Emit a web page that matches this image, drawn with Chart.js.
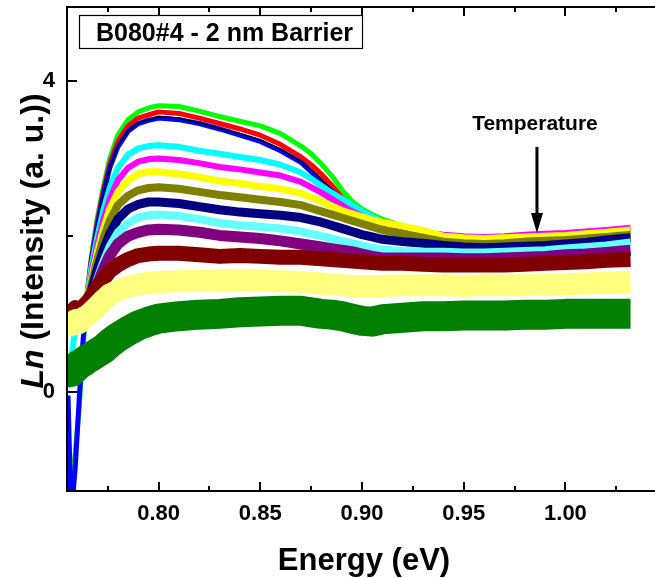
<!DOCTYPE html>
<html>
<head>
<meta charset="utf-8">
<script src="https://cdn.jsdelivr.net/npm/chart.js@4.4.1/dist/chart.umd.min.js"></script>
<style>
  html, body { margin: 0; padding: 0; background: #fff; overflow: hidden; }
  #wrap { position: relative; width: 660px; height: 578px; }
</style>
</head>
<body>
<div id="wrap"><canvas id="plChart"></canvas></div>
<script>
// photon energy (eV), shared by every spectrum
const energy = [0.7555, 0.757, 0.759, 0.761, 0.763, 0.765, 0.767, 0.770, 0.773, 0.776,
    0.780, 0.785, 0.790, 0.795, 0.800, 0.810, 0.820, 0.830, 0.840, 0.850,
    0.860, 0.870, 0.875, 0.880, 0.885, 0.890, 0.895, 0.900, 0.905, 0.910,
    0.920, 0.930, 0.940, 0.950, 0.960, 0.970, 0.980, 0.990, 1.000, 1.010,
    1.020, 1.032];

const xTicks = [0.80, 0.85, 0.90, 0.95, 1.00];
const xMinorTicks = [0.775, 0.825, 0.875, 0.925, 0.975, 1.025];
const yTicks = [0, 4];
const yMinorTicks = [2];

const sampleName = 'B080#4 - 2 nm Barrier';
const arrowLabel = 'Temperature';

// Ln(intensity), lowest temperature first
const lnLime = [-1.6, -1.3, -0.8, -0.2, 0.6, 1.3, 1.75, 2.25, 2.65, 3.0, 3.3, 3.5, 3.6, 3.65, 3.68, 3.67, 3.61, 3.54, 3.48, 3.42, 3.32, 3.16, 3.06, 2.93, 2.78, 2.6, 2.45, 2.35, 2.28, 2.22, 2.13, 2.05, 2.0, 1.98, 1.97, 1.98, 2.0, 2.0, 2.02, 2.04, 2.05, 2.08];
const lnRed = [0.8, 0.8, 0.85, 0.9, 1.0, 1.28, 1.7, 2.2, 2.6, 2.93, 3.22, 3.42, 3.52, 3.56, 3.6, 3.58, 3.52, 3.45, 3.38, 3.3, 3.18, 3.02, 2.92, 2.8, 2.66, 2.5, 2.38, 2.28, 2.22, 2.17, 2.1, 2.03, 1.99, 1.97, 1.96, 1.97, 1.99, 1.99, 2.01, 2.03, 2.04, 2.07];
const lnBlack = [0.75, 0.75, 0.8, 0.85, 0.95, 1.25, 1.65, 2.15, 2.55, 2.88, 3.16, 3.36, 3.46, 3.5, 3.54, 3.52, 3.46, 3.39, 3.32, 3.24, 3.12, 2.96, 2.86, 2.74, 2.6, 2.46, 2.35, 2.26, 2.2, 2.15, 2.08, 2.01, 1.97, 1.95, 1.94, 1.95, 1.97, 1.97, 1.99, 2.01, 2.02, 2.05];
const lnBlue = [-0.05, -1.6, -1.0, -0.1, 0.7, 1.25, 1.68, 2.15, 2.55, 2.88, 3.15, 3.35, 3.45, 3.49, 3.52, 3.5, 3.45, 3.38, 3.3, 3.22, 3.1, 2.95, 2.83, 2.7, 2.58, 2.45, 2.33, 2.25, 2.2, 2.15, 2.08, 2.02, 1.98, 1.96, 1.95, 1.96, 1.98, 1.98, 2.0, 2.02, 2.03, 2.06];
const lnCyan = [0.05, 0.4, 0.8, 0.9, 1.0, 1.25, 1.6, 2.0, 2.35, 2.62, 2.88, 3.05, 3.13, 3.16, 3.17, 3.15, 3.1, 3.06, 3.02, 2.98, 2.92, 2.82, 2.74, 2.65, 2.56, 2.48, 2.4, 2.32, 2.25, 2.18, 2.1, 2.02, 1.97, 1.95, 1.94, 1.95, 1.97, 1.97, 1.99, 2.01, 2.02, 2.05];
const lnMagenta = [0.9, 0.9, 0.95, 1.0, 1.05, 1.2, 1.52, 1.9, 2.22, 2.48, 2.72, 2.88, 2.96, 2.99, 3.0, 2.98, 2.94, 2.89, 2.86, 2.82, 2.78, 2.7, 2.63, 2.56, 2.48, 2.4, 2.32, 2.26, 2.2, 2.15, 2.09, 2.05, 2.02, 2.0, 1.99, 2.0, 2.02, 2.03, 2.04, 2.06, 2.08, 2.11];
const lnYellow = [0.9, 0.9, 0.95, 1.0, 1.05, 1.18, 1.45, 1.8, 2.1, 2.35, 2.57, 2.72, 2.8, 2.83, 2.83, 2.8, 2.76, 2.71, 2.68, 2.64, 2.61, 2.55, 2.5, 2.45, 2.39, 2.33, 2.29, 2.25, 2.21, 2.18, 2.13, 2.07, 2.0, 1.98, 1.97, 1.98, 1.99, 2.0, 2.01, 2.03, 2.05, 2.08];
const lnOlive = [0.9, 0.9, 0.95, 1.0, 1.05, 1.15, 1.38, 1.7, 1.98, 2.2, 2.4, 2.52, 2.59, 2.62, 2.63, 2.61, 2.57, 2.53, 2.5, 2.47, 2.44, 2.4, 2.36, 2.32, 2.28, 2.24, 2.2, 2.16, 2.12, 2.08, 2.03, 1.98, 1.93, 1.91, 1.9, 1.91, 1.93, 1.94, 1.95, 1.97, 1.99, 2.02];
const lnNavy = [0.9, 0.9, 0.95, 1.0, 1.03, 1.1, 1.3, 1.58, 1.83, 2.03, 2.22, 2.35, 2.41, 2.44, 2.44, 2.42, 2.38, 2.34, 2.31, 2.29, 2.27, 2.24, 2.21, 2.18, 2.14, 2.1, 2.06, 2.02, 1.99, 1.96, 1.93, 1.91, 1.88, 1.86, 1.85, 1.86, 1.87, 1.88, 1.9, 1.92, 1.95, 1.98];
const lnLightCyan = [0.9, 0.9, 0.95, 0.98, 1.0, 1.05, 1.22, 1.46, 1.68, 1.87, 2.05, 2.17, 2.24, 2.27, 2.28, 2.26, 2.22, 2.17, 2.14, 2.12, 2.1, 2.06, 2.03, 2.0, 1.97, 1.94, 1.91, 1.88, 1.85, 1.83, 1.81, 1.8, 1.8, 1.79, 1.79, 1.8, 1.81, 1.82, 1.84, 1.86, 1.88, 1.92];
const lnPurple = [0.9, 0.9, 0.92, 0.95, 0.97, 1.0, 1.15, 1.38, 1.58, 1.75, 1.9, 2.0, 2.05, 2.08, 2.09, 2.08, 2.05, 2.01, 1.99, 1.97, 1.94, 1.9, 1.88, 1.86, 1.84, 1.82, 1.8, 1.77, 1.74, 1.72, 1.72, 1.72, 1.72, 1.71, 1.71, 1.72, 1.73, 1.74, 1.76, 1.77, 1.79, 1.82];
const lnMaroon = [1.05, 1.02, 1.08, 1.05, 1.1, 1.15, 1.22, 1.35, 1.45, 1.55, 1.63, 1.7, 1.75, 1.77, 1.78, 1.78, 1.76, 1.74, 1.75, 1.74, 1.73, 1.73, 1.72, 1.71, 1.7, 1.69, 1.68, 1.67, 1.66, 1.65, 1.65, 1.64, 1.63, 1.63, 1.63, 1.63, 1.64, 1.65, 1.66, 1.67, 1.69, 1.7];
const lnLightYellow = [0.9, 0.85, 0.92, 0.88, 0.95, 0.98, 1.02, 1.1, 1.18, 1.25, 1.3, 1.35, 1.38, 1.4, 1.41, 1.42, 1.43, 1.43, 1.44, 1.43, 1.42, 1.41, 1.4, 1.39, 1.38, 1.37, 1.36, 1.36, 1.36, 1.36, 1.37, 1.37, 1.37, 1.36, 1.37, 1.37, 1.37, 1.38, 1.38, 1.39, 1.4, 1.41];
const lnGreen = [0.3, 0.25, 0.3, 0.35, 0.38, 0.42, 0.45, 0.5, 0.55, 0.62, 0.7, 0.78, 0.85, 0.9, 0.94, 0.97, 0.99, 1.0, 1.02, 1.03, 1.04, 1.04, 1.02, 1.0, 0.99, 0.97, 0.94, 0.91, 0.9, 0.93, 0.95, 0.97, 0.97, 0.98, 0.98, 0.98, 0.99, 0.99, 1.0, 1.0, 1.0, 1.0];

// drawn in this order, later ones on top
const series = [
    { data: lnLime, color: '#00ff00', width: 5 },
    { data: lnRed, color: '#ff0000', width: 5 },
    { data: lnBlue, color: '#0000ff', width: 5 },
    { data: lnBlack, color: '#000000', width: 1.5 },
    { data: lnCyan, color: '#00ffff', width: 6 },
    { data: lnMagenta, color: '#ff00ff', width: 6 },
    { data: lnYellow, color: '#ffff00', width: 7 },
    { data: lnOlive, color: '#808000', width: 8 },
    { data: lnNavy, color: '#000080', width: 9 },
    { data: lnLightCyan, color: '#66ffff', width: 8 },
    { data: lnPurple, color: '#800080', width: 11 },
    { data: lnMaroon, color: '#800000', width: 15 },
    { data: lnLightYellow, color: '#ffff80', width: 22 },
    { data: lnGreen, color: '#008000', width: 30 }
];

const FONT = 'Arial, "Liberation Sans", sans-serif';

const datasets = series.map((s, i) => ({
    data: energy.map((e, j) => ({ x: e, y: s.data[j] })),
    borderColor: s.color,
    borderWidth: s.width,
    borderJoinStyle: 'round',
    pointRadius: 0,
    tension: 0,
    clip: 0,
    order: -i
}));

// frame with inward ticks, annotations and axis titles
const decorations = {
    id: 'decorations',
    afterDraw(chart) {
        const { ctx, chartArea: a, scales: { x, y } } = chart;
        ctx.save();
        ctx.strokeStyle = '#000';
        ctx.lineWidth = 2;
        ctx.strokeRect(a.left, a.top, a.right - a.left, a.bottom - a.top);

        const xTick = (v, len) => {
            const px = Math.round(x.getPixelForValue(v));
            ctx.beginPath();
            ctx.moveTo(px, a.bottom); ctx.lineTo(px, a.bottom - len);
            ctx.moveTo(px, a.top); ctx.lineTo(px, a.top + len);
            ctx.stroke();
        };
        const yTick = (v, len) => {
            const py = Math.round(y.getPixelForValue(v));
            ctx.beginPath();
            ctx.moveTo(a.left, py); ctx.lineTo(a.left + len, py);
            ctx.stroke();
        };
        xTicks.forEach(v => xTick(v, 9));
        xMinorTicks.forEach(v => xTick(v, 5));
        yTicks.forEach(v => yTick(v, 10));
        yMinorTicks.forEach(v => yTick(v, 6));

        // sample label box
        ctx.lineWidth = 1.2;
        ctx.strokeRect(79.5, 15.5, 283, 33);
        ctx.fillStyle = '#000';
        ctx.font = 'bold 25px ' + FONT;
        ctx.textAlign = 'left';
        ctx.textBaseline = 'alphabetic';
        ctx.fillText(sampleName, 96, 41);

        // temperature arrow
        const ax = x.getPixelForValue(0.986);
        const top = y.getPixelForValue(3.15);
        const tip = y.getPixelForValue(2.04);
        ctx.lineWidth = 3;
        ctx.beginPath();
        ctx.moveTo(ax, top); ctx.lineTo(ax, tip - 14);
        ctx.stroke();
        ctx.beginPath();
        ctx.moveTo(ax - 6, tip - 20); ctx.lineTo(ax + 6, tip - 20); ctx.lineTo(ax, tip);
        ctx.closePath();
        ctx.fill();
        ctx.font = 'bold 21px ' + FONT;
        ctx.textAlign = 'center';
        ctx.fillText(arrowLabel, ax - 2, 130);

        // x title
        ctx.font = 'bold 31px ' + FONT;
        ctx.fillText('Energy (eV)', (a.left + a.right) / 2 + 2, 570);

        // y title, "Ln" in italic
        ctx.translate(43, 241);
        ctx.rotate(-Math.PI / 2);
        const p1 = 'Ln', p2 = ' (Intensity (a. u.))';
        ctx.font = 'italic bold 32px ' + FONT;
        const w1 = ctx.measureText(p1).width;
        ctx.font = 'bold 32px ' + FONT;
        const w2 = ctx.measureText(p2).width;
        const start = -(w1 + w2) / 2;
        ctx.textAlign = 'left';
        ctx.font = 'italic bold 32px ' + FONT;
        ctx.fillText(p1, start, 0);
        ctx.font = 'bold 32px ' + FONT;
        ctx.fillText(p2, start + w1, 0);
        ctx.restore();
    }
};

new Chart(document.getElementById('plChart'), {
    type: 'line',
    data: { datasets },
    options: {
        responsive: true,
        maintainAspectRatio: false,
        devicePixelRatio: 1,
        animation: false,
        layout: { padding: { top: 7, right: 3, left: 0, bottom: 0 } },
        plugins: { legend: { display: false }, tooltip: { enabled: false } },
        scales: {
            x: {
                type: 'linear',
                min: 0.755,
                max: 1.045,
                grid: { display: false, drawTicks: false },
                border: { display: false },
                afterBuildTicks: s => { s.ticks = xTicks.map(v => ({ value: v })); },
                afterFit: s => { s.height = 87; s.paddingLeft = 0; s.paddingRight = 0; },
                ticks: {
                    color: '#000',
                    padding: 10,
                    font: { family: FONT, size: 22, weight: 'bold' },
                    callback: v => v.toFixed(2)
                }
            },
            y: {
                type: 'linear',
                min: -1.28,
                max: 4.95,
                grid: { display: false, drawTicks: false },
                border: { display: false },
                afterBuildTicks: s => { s.ticks = yTicks.map(v => ({ value: v })); },
                afterFit: s => { s.width = 67; s.paddingTop = 0; s.paddingBottom = 0; },
                ticks: {
                    color: '#000',
                    padding: 12,
                    font: { family: FONT, size: 22, weight: 'bold' },
                    callback: v => String(v)
                }
            }
        }
    },
    plugins: [decorations]
});
</script>
</body>
</html>
